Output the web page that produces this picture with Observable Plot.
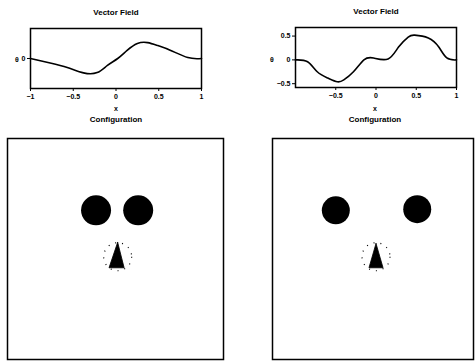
<!DOCTYPE html>
<html><head><meta charset="utf-8">
<script src="https://cdn.jsdelivr.net/npm/d3@7"></script>
<script src="https://cdn.jsdelivr.net/npm/@observablehq/plot@0.6"></script>
<style>
body{margin:0;background:#fff;}
#wrap{position:relative;width:475px;height:363px;overflow:hidden;font-family:"Liberation Sans",Arial,sans-serif;}
.p{position:absolute;}
.t{position:absolute;font-size:8px;font-weight:bold;transform:translate(-50%,-50%);white-space:nowrap;color:#000;line-height:1;}
</style></head>
<body><div id="wrap"></div>
<script>
// Vector field curves
const leftX  = [-1, -0.77, -0.57, -0.38, -0.22, -0.10, 0.02, 0.13, 0.25, 0.37, 0.49, 0.64, 0.84, 1];
const leftY  = [0, -0.15, -0.30, -0.48, -0.47, -0.23, 0, 0.27, 0.50, 0.53, 0.43, 0.27, 0.03, 0];
const rightX = [-1, -0.85, -0.73, -0.6, -0.48, -0.4, -0.28, -0.15, -0.03, 0.15, 0.28, 0.4, 0.48, 0.65, 0.78, 0.88, 1];
const rightY = [0, -0.04, -0.25, -0.38, -0.46, -0.42, -0.25, 0, 0.04, 0.02, 0.27, 0.48, 0.52, 0.46, 0.27, 0.04, 0];
const leftXTicks = [-1, -0.5, 0, 0.5, 1];
const leftYTicks = [0];
const rightXTicks = [-0.5, 0, 0.5, 1];
const rightYTicks = [-0.5, 0, 0.5];
// Configuration: obstacles (disks) and robot (triangle)
const leftDiskX = [-0.18, 0.21];
const leftDiskY = [0.35, 0.35];
const rightDiskX = [-0.37, 0.44];
const rightDiskY = [0.35, 0.36];
const leftTriX = [0.02, -0.06, 0.08];
const leftTriY = [0.06, -0.17, -0.17];
const rightTriX = [0.03, -0.04, 0.10];
const rightTriY = [0.05, -0.17, -0.17];
const leftRobot = [0.02, -0.07];
const rightRobot = [0.03, -0.07];
const titles = ["Vector Field", "Configuration"];
const axisLabels = ["x", "θ"];

const wrap = document.getElementById("wrap");
const font = {fontSize: "7px", fontWeight: "bold", fontFamily: "Liberation Sans, Arial, sans-serif", background: "transparent", overflow: "visible"};
const fmt = d3.format("~g");

function place(el, left, top) { el.classList.add("p"); el.style.left = left + "px"; el.style.top = top + "px"; wrap.appendChild(el); }
function title(txt, x, y, size) { const d = document.createElement("div"); d.className = "t"; d.textContent = txt; d.style.left = x + "px"; d.style.top = y + "px"; if (size) d.style.fontSize = size + "px"; wrap.appendChild(d); }

function fieldPlot(xs, ys, xt, yt, ydom, ml, mr, mt, mb) {
  const data = xs.map((x, i) => ({x, y: ys[i]}));
  return Plot.plot({
    width: 235, height: 115, marginLeft: ml, marginRight: mr, marginTop: mt, marginBottom: mb,
    style: font,
    x: {domain: [-1, 1], ticks: xt, tickFormat: fmt, tickSize: 3, tickPadding: 3, label: null},
    y: {domain: ydom, ticks: yt, tickFormat: fmt, tickSize: 3, tickPadding: 2, label: null},
    marks: [
      Plot.frame({stroke: "#000", strokeWidth: 1.5}),
      Plot.line(data, {x: "x", y: "y", curve: "natural", stroke: "#000", strokeWidth: 1.6})
    ]
  });
}

function configPlot(dx, dy, tx, ty, robot, r, ml, mr) {
  const disks = dx.map((x, i) => ({x, y: dy[i]}));
  const tri = tx.map((x, i) => ({x, y: ty[i]}));
  return Plot.plot({
    width: 235, height: 233, marginLeft: ml, marginRight: mr, marginTop: 8, marginBottom: 4,
    style: font,
    x: {domain: [-1, 1], axis: null},
    y: {domain: [-1, 1], axis: null},
    marks: [
      Plot.frame({stroke: "#000", strokeWidth: 1.5}),
      Plot.dot(disks, {x: "x", y: "y", r: r, fill: "#000", stroke: "none"}),
      Plot.dot([{x: robot[0], y: robot[1]}], {x: "x", y: "y", r: 14, fill: "none", stroke: "#000", strokeWidth: 1.2, strokeDasharray: "1,6"}),
      Plot.line(tri.concat([tri[0]]), {x: "x", y: "y", fill: "#000", stroke: "#000", strokeWidth: 0.8})
    ]
  });
}

place(fieldPlot(leftX, leftY, leftXTicks, leftYTicks, [-1, 1], 30, 34, 28, 27), 0, 0);
place(fieldPlot(rightX, rightY, rightXTicks, rightYTicks, [-0.58, 0.68], 55, 19, 27, 28), 240, 0);
place(configPlot(leftDiskX, leftDiskY, leftTriX, leftTriY, leftRobot, 15, 7, 12), 0, 130);
place(configPlot(rightDiskX, rightDiskY, rightTriX, rightTriY, rightRobot, 14, 32, 2), 240, 130);

title(titles[0], 116, 13);
title(titles[0], 376, 12);
title(titles[1], 116, 120);
title(titles[1], 375, 120);
title(axisLabels[0], 116, 108, 7);
title(axisLabels[0], 375, 108, 7);
title(axisLabels[1], 17, 59, 7);
title(axisLabels[1], 272, 59, 7);
</script></body></html>
